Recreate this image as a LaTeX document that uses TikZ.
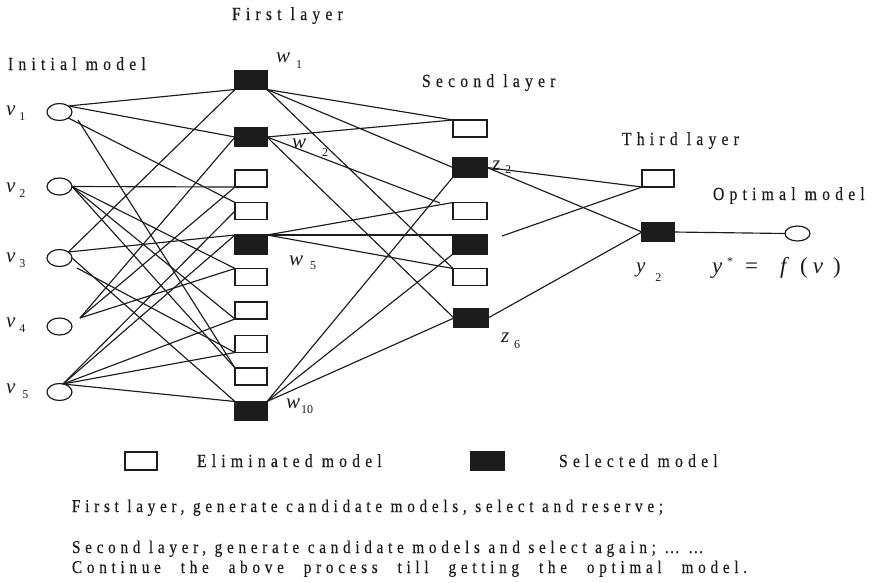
\documentclass[tikz,border=0pt]{standalone}
\usepackage{fontspec}
\setmainfont{Liberation Serif}
\newfontfamily\lblfont[LetterSpace=28,FakeStretch=0.85,FakeBold=0.3]{Liberation Serif}
\newfontfamily\notefont[LetterSpace=26,FakeStretch=0.85,FakeBold=0.3]{Liberation Serif}
\newfontfamily\varfont{Liberation Serif}
\usetikzlibrary{shapes.geometric}

\definecolor{ink}{HTML}{1C1C1C}

% italic variable with a detached, lowered index: \varsub[gap]{drop}{letter}{index}
\newcommand\varsub[4][4pt]{{\varfont\fontsize{21}{21}\selectfont\itshape #3}\hspace{#1}\raisebox{-#2}{\varfont\fontsize{12}{12}\selectfont #4}}

\begin{document}
\begin{tikzpicture}[x=1pt,y=-1pt,
  every node/.style={inner sep=0pt,outer sep=0pt},
  inp/.style={ellipse,draw=ink,line width=1.2pt,minimum width=25pt,minimum height=17pt},
  emptybox/.style={rectangle,draw=ink,line width=1.2pt,fill=white,minimum width=32pt,minimum height=17pt},
  fullbox/.style={rectangle,draw=ink,line width=1.2pt,fill=ink,minimum width=32pt,minimum height=19pt},
  lbl/.style={font=\lblfont\fontsize{18.5}{21}\selectfont,text=ink,anchor=base west},
  note/.style={font=\notefont\fontsize{18}{21}\selectfont,text=ink,anchor=base west},
  var/.style={text=ink,anchor=base west},
  link/.style={draw=ink,line width=1.15pt}]

\useasboundingbox (0,0) rectangle (877,582);

% ---- input variables
\node[inp] (v1) at (59.5,112) {};
\node[inp] (v2) at (59.5,186.5) {};
\node[inp] (v3) at (59.5,258) {};
\node[inp] (v4) at (59.5,326.5) {};
\node[inp] (v5) at (59.5,392) {};

% ---- first layer
\node[fullbox]  (w1)  at (251,80) {};
\node[fullbox]  (w2)  at (251,137) {};
\node[emptybox] (b3)  at (251,178.5) {};
\node[emptybox] (b4)  at (251,211) {};
\node[fullbox]  (w5)  at (251,244.5) {};
\node[emptybox] (b6)  at (251,277) {};
\node[emptybox] (b7)  at (251,310.5) {};
\node[emptybox] (b8)  at (251,344) {};
\node[emptybox] (b9)  at (251,376.5) {};
\node[fullbox]  (w10) at (251,411) {};

% ---- second layer
\node[emptybox,minimum width=34pt] (z1) at (470,128.5) {};
\node[fullbox,minimum width=34pt]  (z2) at (470,167.5) {};
\node[emptybox,minimum width=34pt] (z3) at (470,211) {};
\node[fullbox,minimum width=34pt]  (z4) at (470,244.5) {};
\node[emptybox,minimum width=34pt] (z5) at (470,277) {};
\node[fullbox,minimum width=34pt]  (z6) at (471,318) {};

% ---- third layer and result
\node[emptybox] (t1) at (658,178.5) {};
\node[fullbox]  (y2) at (658,232) {};
\node[inp,minimum height=15pt] (out) at (797.5,233.5) {};

% loose line ends
\coordinate (v1d) at (78,120);
\coordinate (v3d) at (77,268);
\coordinate (v4s) at (80,318);
\coordinate (v5a) at (63,384);
\coordinate (z3d) at (440,203);
\coordinate (z4d) at (502,236);

% ---- input -> first layer
\path[link] (v1.north east) -- (w1.south west);
\path[link] (v1.north east) -- (w2.west);
\path[link] (v1.south east) -- (b4.north west);
\path[link] (v1d) -- (b9.north west);
\path[link] (v2.east) -- (b3.south west);
\path[link] (v2.east) -- (b6.north west);
\path[link] (v2.east) -- (b7.south west);
\path[link] (v2.east) -- (b9.north west);
\path[link] (v3.north east) -- (w1.south west);
\path[link] (v3.north east) -- (w5.north west);
\path[link] (v3.east) -- (w10.north west);
\path[link] (v3d) -- (b8.south west);
\path[link] (v4s) -- (w2.west);
\path[link] (v4s) -- (b3.south west);
\path[link] (v4s) -- (b6.north west);
\path[link] (v5a) -- (b4.west);
\path[link] (v5a) -- (w5.north west);
\path[link] (v5a) -- (b7.south west);
\path[link] (v5a) -- (b8.south west);
\path[link] (v5a) -- (w10.north west);

% ---- first -> second layer
\path[link] (w1.south east) -- (z1.north west);
\path[link] (w1.south east) -- (z2.west);
\path[link] (w1.south east) -- (z5.north west);
\path[link] (w2.east) -- (z1.north west);
\path[link] (w2.east) -- (z3d);
\path[link] (w2.east) -- (z6.west);
\path[link] (w5.north east) -- (z3.north west);
\path[link] (w5.north east) -- (z4.north west);
\path[link] (w5.north east) -- (z5.north west);
\path[link] (w10.north east) -- (z2.south west);
\path[link] (w10.north east) -- (z4.south west);
\path[link] (w10.north east) -- (z6.west);

% ---- second -> third layer -> optimum
\path[link] (z2.east) -- (t1.south west);
\path[link] (z2.east) -- (y2.west);
\path[link] (z4d) -- (t1.south west);
\path[link] (z6.east) -- (y2.west);
\path[link] (y2.east) -- (out.west);

% ---- titles
\node[lbl] (tinit)  at (8,70)    {Initial model};
\node[lbl] (tfirst) at (232,20)  {First layer};
\node[lbl] (tsec)   at (422,87)  {Second layer};
\node[lbl] (tthird) at (622,145) {Third layer};
\node[lbl] (topt)   at (713,200) {Optimal model};

% ---- variable names
\node[var] (lv1) at (6,115) {\varsub[4pt]{5pt}{v}{1}};
\node[var] (lv2) at (6,192) {\varsub[4pt]{5pt}{v}{2}};
\node[var] (lv3) at (6,262) {\varsub[4pt]{5pt}{v}{3}};
\node[var] (lv4) at (6,327) {\varsub[4pt]{5pt}{v}{4}};
\node[var] (lv5) at (6,393) {\varsub[7pt]{5pt}{v}{5}};
\node[var] (lw1) at (276,62)  {\varsub[6pt]{6pt}{w}{1}};
\node[var] (lw2) at (292,148) {\varsub[16pt]{8pt}{w}{2}};
\node[var] (lw5) at (289,265) {\varsub[7pt]{4pt}{w}{5}};
\node[var] (lw10) at (286,408) {\varsub[1pt]{5pt}{w}{10}};
\node[var] (lz2) at (492,170) {\varsub[5pt]{3pt}{z}{2}};
\node[var] (lz6) at (501,342) {\varsub[5pt]{6pt}{z}{6}};
\node[var] (ly2) at (636,272) {\varsub[10pt]{9pt}{y}{2}};
\node[var] (lf) at (712,273) {\varfont\fontsize{23}{23}\selectfont
  \textit{y}\hspace{5pt}\raisebox{8pt}{\fontsize{12}{12}\selectfont *}\hspace{12pt}=\hspace{22pt}\textit{f}\hspace{11pt}(\hspace{5pt}\textit{v}\hspace{10pt})};

% ---- legend
\node[emptybox,minimum height=18pt] (leg1) at (141,461) {};
\node[lbl] (leg1t) at (197,467) {Eliminated model};
\node[fullbox,minimum height=18pt,minimum width=33pt] (leg2) at (487.5,461) {};
\node[lbl] (leg2t) at (559,467) {Selected model};

% ---- notes
\node[note] (n1) at (72,512) {First layer, generate candidate models, select and reserve;};
\node[note] (n2) at (72,553) {Second layer, generate candidate models and select again; \dots\ \dots};
\node[note] (n3) at (72,573) {\makebox[675pt][s]{Continue the above process till getting the optimal model.}};
\end{tikzpicture}
\end{document}
